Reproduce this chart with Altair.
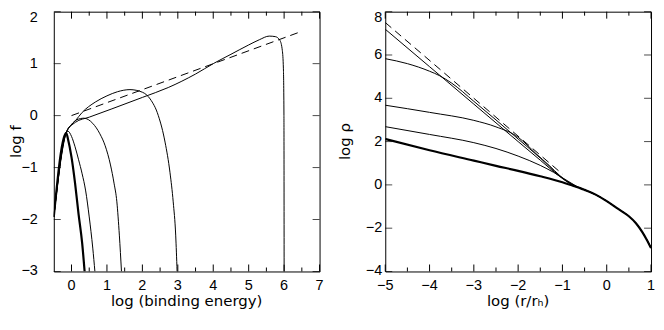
import altair as alt
import pandas as pd

# ---------------- Left panel: log f vs log (binding energy) ----------------
L_thick_x = [-0.5, -0.15, -0.1, 0.0, 0.1, 0.2, 0.3, 0.37]
L_thick_y = [-1.95, -0.33, -0.45, -0.8, -1.3, -1.9, -2.45, -3.0]

L_a_x = [-0.5, -0.15, -0.1, 0.0, 0.1, 0.2, 0.3, 0.4, 0.5, 0.6, 0.66]
L_a_y = [-1.95, -0.33, -0.3, -0.4, -0.6, -0.85, -1.12, -1.45, -1.95, -2.55, -3.0]

L_b_x = [-0.5, -0.15, 0.0, 0.15, 0.35, 0.6, 0.8, 0.95, 1.1, 1.2, 1.28, 1.35, 1.41]
L_b_y = [-1.95, -0.33, -0.17, -0.08, -0.05, -0.15, -0.35, -0.58, -0.95, -1.3, -1.66, -2.3, -3.0]

L_c_x = [-0.5, -0.15, 0.11, 0.3, 0.67, 1.0, 1.3, 1.65, 2.0, 2.22, 2.45, 2.64, 2.78, 2.87, 2.94, 2.98]
L_c_y = [-1.95, -0.33, -0.1, 0.06, 0.26, 0.38, 0.46, 0.5, 0.45, 0.32, 0.0, -0.51, -1.1, -1.66, -2.3, -3.0]

L_d_x = [-0.5, -0.15, 0.11, 0.5, 1.14, 2.0, 2.73, 3.5, 4.0, 4.5, 5.0, 5.3, 5.58, 5.75, 5.88, 5.95, 5.98, 5.995, 6.0]
L_d_y = [-1.95, -0.33, -0.13, -0.03, 0.13, 0.35, 0.54, 0.8, 1.0, 1.18, 1.36, 1.46, 1.53, 1.52, 1.45, 1.25, 0.9, 0.0, -3.0]

L_dash_x = [0.0, 6.45]
L_dash_y = [0.0, 1.61]

L_x_major = [0, 1, 2, 3, 4, 5, 6, 7]
L_x_minor = [0.5, 1.5, 2.5, 3.5, 4.5, 5.5, 6.5]
L_y_major = [-3, -2, -1, 0, 1, 2]
L_x_title = "log (binding energy)"
L_y_title = "log f"

# ---------------- Right panel: log rho vs log (r/r_h) ----------------
R_tail_x = [-0.6, -0.5, -0.25, 0.0, 0.25, 0.5, 0.66, 0.8, 0.9, 1.0]
R_tail_y = [-0.15, -0.23, -0.45, -0.75, -1.1, -1.45, -1.77, -2.17, -2.52, -2.92]

R_thick_x = [-5, -4, -3, -2.5, -2, -1.5, -1, -0.75]
R_thick_y = [2.12, 1.6, 1.12, 0.88, 0.65, 0.4, 0.12, -0.05]

R_1_x = [-5, -4, -3, -2, -1.5, -1.07, -0.9, -0.75]
R_1_y = [7.19, 5.46, 3.73, 2.0, 1.14, 0.4, 0.15, -0.02]

R_2_x = [-5, -4.5, -4, -3.77, -3.5, -3, -2.5, -2, -1.5, -1.07, -0.9, -0.75]
R_2_y = [5.83, 5.6, 5.25, 5.04, 4.7, 3.86, 3.0, 2.12, 1.24, 0.42, 0.16, -0.02]

R_3_x = [-5, -4, -3, -2.5, -2, -1.8, -1.6, -1.3, -1.07, -0.9, -0.75]
R_3_y = [3.68, 3.35, 2.98, 2.68, 2.2, 1.85, 1.45, 0.9, 0.45, 0.17, 0.0]

R_4_x = [-5, -4, -3, -2.5, -2, -1.5, -1.2, -1.0, -0.8]
R_4_y = [2.69, 2.33, 1.95, 1.68, 1.33, 0.9, 0.58, 0.33, 0.08]

R_dash_x = [-5, -1]
R_dash_y = [7.5, 0.5]

R_x_major = [-5, -4, -3, -2, -1, 0, 1]
R_x_minor = [-4.5, -3.5, -2.5, -1.5, -0.5, 0.5]
R_y_major = [-4, -2, 0, 2, 4, 6, 8]
R_x_title = "log (r/rₕ)"
R_y_title = "log ρ"


def frame(curves):
    rows = []
    for name, xs, ys in curves:
        for i, (x, y) in enumerate(zip(xs, ys)):
            rows.append({"id": name, "i": i, "x": x, "y": y})
    return pd.DataFrame(rows)


LABEL_FONT = "Liberation Sans"
LABEL_SIZE = 14.5
TITLE_FONT = "DejaVu Sans"
TITLE_SIZE = 15
MAJOR = 7
MINOR = 4


def x_ticks(values, xs, length):
    df = pd.DataFrame({"v": values})
    bottom = alt.Chart(df).mark_rule(color="black", strokeWidth=1, y2Offset=-length).encode(
        x=alt.X("v:Q", scale=xs, axis=None),
        y=alt.value("height"), y2=alt.value("height"))
    top = alt.Chart(df).mark_rule(color="black", strokeWidth=1).encode(
        x=alt.X("v:Q", scale=xs, axis=None),
        y=alt.value(0), y2=alt.value(length))
    return [bottom, top]


def y_ticks(values, ys, length):
    df = pd.DataFrame({"v": values})
    left = alt.Chart(df).mark_tick(color="black", orient="horizontal", size=length,
                                   thickness=1, xOffset=length / 2).encode(
        y=alt.Y("v:Q", scale=ys, axis=None), x=alt.value(0))
    right = alt.Chart(df).mark_tick(color="black", orient="horizontal", size=length,
                                    thickness=1, xOffset=-length / 2).encode(
        y=alt.Y("v:Q", scale=ys, axis=None), x=alt.value("width"))
    return [left, right]


def x_labels(values, xs):
    df = pd.DataFrame({"v": values})
    return alt.Chart(df).mark_text(font=LABEL_FONT, fontSize=LABEL_SIZE, color="black",
                                   align="center", baseline="top", dy=8).encode(
        x=alt.X("v:Q", scale=xs, axis=None), y=alt.value("height"),
        text=alt.Text("v:Q", format="d"))


def y_labels(values, ys, gap):
    top_val = max(values)
    rest = pd.DataFrame({"v": [v for v in values if v != top_val]})
    top = pd.DataFrame({"v": [top_val]})
    base = dict(font=LABEL_FONT, fontSize=LABEL_SIZE, color="black", align="right",
                baseline="middle", dx=-gap)
    a = alt.Chart(rest).mark_text(**base).encode(
        y=alt.Y("v:Q", scale=ys, axis=None), x=alt.value(0),
        text=alt.Text("v:Q", format="d"))
    b = alt.Chart(top).mark_text(dy=6, **base).encode(
        y=alt.Y("v:Q", scale=ys, axis=None), x=alt.value(0),
        text=alt.Text("v:Q", format="d"))
    return [a, b]


def titles(xtitle, ytitle, xs, ys, xdom, ydom, ytitle_shift):
    xt = alt.Chart(pd.DataFrame({"t": [xtitle]})).mark_text(
        font=TITLE_FONT, fontSize=TITLE_SIZE, color="black", align="center",
        baseline="top", dy=23).encode(
        x=alt.X(datum=(xdom[0] + xdom[1]) / 2, scale=xs, axis=None),
        y=alt.value("height"), text="t:N")
    # offsets of rotated text act in the text's own frame: dy moves it sideways
    yt = alt.Chart(pd.DataFrame({"t": [ytitle]})).mark_text(
        font=TITLE_FONT, fontSize=TITLE_SIZE, color="black", align="center",
        baseline="middle", angle=270, dy=-ytitle_shift).encode(
        y=alt.Y(datum=(ydom[0] + ydom[1]) / 2, scale=ys, axis=None),
        x=alt.value(0), text="t:N")
    return [xt, yt]


def panel(thin, thick, dash, xdom, ydom, xmaj, xmin, ymaj, xtitle, ytitle,
          ylab_gap, ytitle_shift):
    xs = alt.Scale(domain=xdom, nice=False, zero=False)
    ys = alt.Scale(domain=ydom, nice=False, zero=False)

    thin_layer = alt.Chart(thin).mark_line(
        color="black", strokeWidth=1, clip=True, interpolate="monotone"
    ).encode(
        x=alt.X("x:Q", scale=xs, axis=None),
        y=alt.Y("y:Q", scale=ys, axis=None),
        detail="id:N",
        order="i:Q",
    )
    thick_layer = alt.Chart(thick).mark_line(
        color="black", strokeWidth=2.2, clip=True, interpolate="monotone"
    ).encode(
        x=alt.X("x:Q", scale=xs, axis=None),
        y=alt.Y("y:Q", scale=ys, axis=None),
        detail="id:N",
        order="i:Q",
    )
    dash_layer = alt.Chart(dash).mark_line(
        color="black", strokeWidth=1, strokeDash=[8, 5], clip=True
    ).encode(
        x=alt.X("x:Q", scale=xs, axis=None),
        y=alt.Y("y:Q", scale=ys, axis=None),
        order="i:Q",
    )
    layers = [thin_layer, thick_layer, dash_layer]
    layers += x_ticks(xmaj, xs, MAJOR) + x_ticks(xmin, xs, MINOR) + y_ticks(ymaj, ys, MAJOR)
    layers += [x_labels(xmaj, xs)] + y_labels(ymaj, ys, ylab_gap)
    layers += titles(xtitle, ytitle, xs, ys, xdom, ydom, ytitle_shift)
    return alt.layer(*layers).properties(width=267, height=261)


left = panel(
    frame([("a", L_a_x, L_a_y), ("b", L_b_x, L_b_y), ("c", L_c_x, L_c_y), ("d", L_d_x, L_d_y)]),
    frame([("t", L_thick_x, L_thick_y)]),
    frame([("dash", L_dash_x, L_dash_y)]),
    [-0.5, 7], [-3, 2], L_x_major, L_x_minor, L_y_major,
    L_x_title, L_y_title, 16, 38,
)

right = panel(
    frame([("1", R_1_x + R_tail_x, R_1_y + R_tail_y),
           ("2", R_2_x + R_tail_x, R_2_y + R_tail_y),
           ("3", R_3_x + R_tail_x, R_3_y + R_tail_y),
           ("4", R_4_x + R_tail_x, R_4_y + R_tail_y)]),
    frame([("t", R_thick_x + R_tail_x, R_thick_y + R_tail_y)]),
    frame([("dash", R_dash_x, R_dash_y)]),
    [-5, 1], [-4, 8], R_x_major, R_x_minor, R_y_major,
    R_x_title, R_y_title, 3, 40,
)

chart = alt.hconcat(left, right, spacing=13).properties(
    padding={"left": 0, "top": 0, "right": 0, "bottom": 0}
).configure_view(stroke="black", strokeWidth=1)

chart.save("out.html", embed_options={"renderer": "svg", "actions": False})
